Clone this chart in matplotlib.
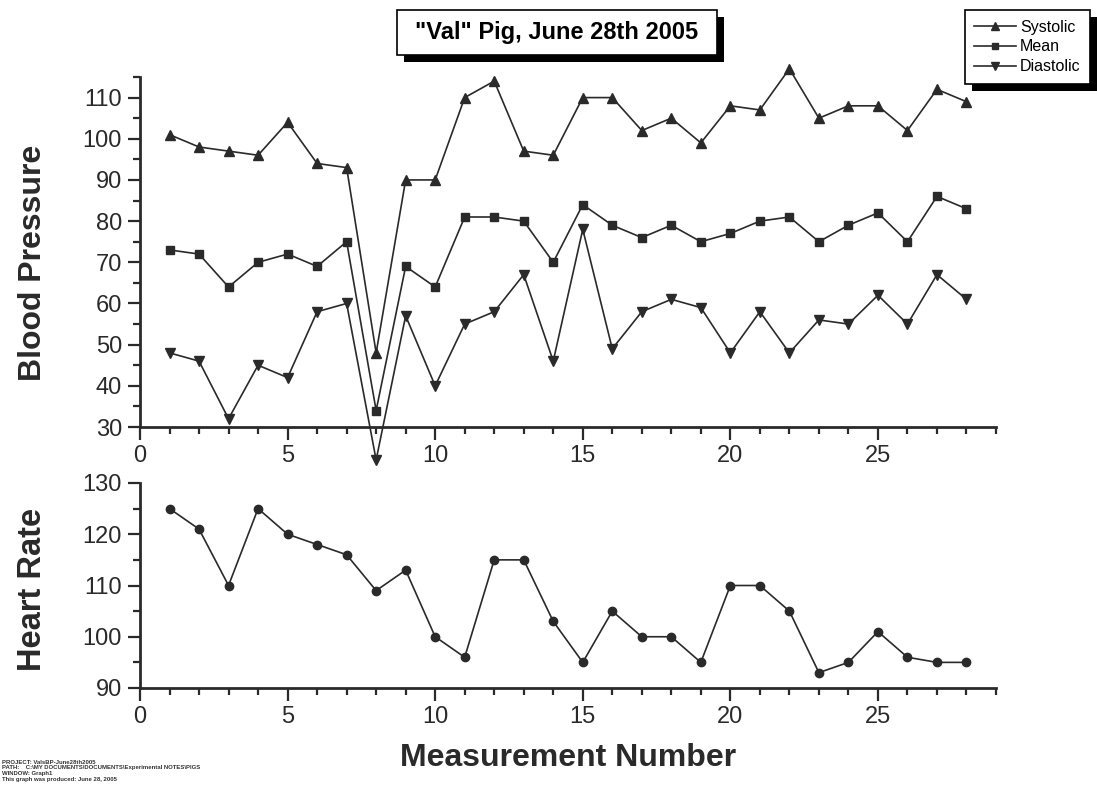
import numpy as np
import matplotlib.pyplot as plt
from matplotlib.patches import Rectangle
from matplotlib.ticker import MultipleLocator

plt.rcParams['font.family'] = ['Liberation Sans', 'DejaVu Sans']

#######################################
### data ###
#######################################
measurement = np.arange(1, 29)
systolic = [101, 98, 97, 96, 104, 94, 93, 48, 90, 90, 110, 114, 97, 96,
            110, 110, 102, 105, 99, 108, 107, 117, 105, 108, 108, 102, 112, 109]
mean_bp = [73, 72, 64, 70, 72, 69, 75, 34, 69, 64, 81, 81, 80, 70,
           84, 79, 76, 79, 75, 77, 80, 81, 75, 79, 82, 75, 86, 83]
diastolic = [48, 46, 32, 45, 42, 58, 60, 22, 57, 40, 55, 58, 67, 46,
             78, 49, 58, 61, 59, 48, 58, 48, 56, 55, 62, 55, 67, 61]
heart_rate = [125, 121, 110, 125, 120, 118, 116, 109, 113, 100, 96, 115, 115, 103,
              95, 105, 100, 100, 95, 110, 110, 105, 93, 95, 101, 96, 95, 95]

title_text = '"Val" Pig, June 28th 2005'
footer_lines = ["PROJECT: ValsBP-June28th2005",
                "PATH:    C:\\MY DOCUMENTS\\DOCUMENTS\\Experimental NOTES\\PIGS",
                "WINDOW: Graph1",
                "This graph was produced: June 28, 2005"]

ink = "#2a2a2a"
W, H = 1097., 797.

def fx(x):
    return x / W

def fy(y):
    return 1 - y / H

fig = plt.figure(figsize=(10.97, 7.97), dpi=100)

ax1 = fig.add_axes([fx(140), fy(427), 856 / W, 350 / H])
ax2 = fig.add_axes([fx(140), fy(688), 856 / W, 205 / H])

h1, = ax1.plot(measurement, systolic, ls="-", lw=1.2, c=ink, marker="^", ms=7.5,
               mfc=ink, mec=ink, label="Systolic", clip_on=False)
h2, = ax1.plot(measurement, mean_bp, ls="-", lw=1.2, c=ink, marker="s", ms=5.5,
               mfc=ink, mec=ink, label="Mean", clip_on=False)
h3, = ax1.plot(measurement, diastolic, ls="-", lw=1.2, c=ink, marker="v", ms=7.5,
               mfc=ink, mec=ink, label="Diastolic", clip_on=False)

ax2.plot(measurement, heart_rate, ls="-", lw=1.2, c=ink, marker="o", ms=6,
         mfc=ink, mec=ink, clip_on=False)

ax1.set_xlim(0, 29)
ax1.set_ylim(30, 115)
ax2.set_xlim(0, 29)
ax2.set_ylim(90, 130)

for ax in (ax1, ax2):
    ax.set_facecolor("none")
    ax.spines["top"].set_visible(False)
    ax.spines["right"].set_visible(False)
    for s in ("left", "bottom"):
        ax.spines[s].set_linewidth(2)
        ax.spines[s].set_color(ink)
    ax.xaxis.set_major_locator(MultipleLocator(5))
    ax.xaxis.set_minor_locator(MultipleLocator(1))
    ax.yaxis.set_major_locator(MultipleLocator(10))
    ax.yaxis.set_minor_locator(MultipleLocator(5))
    ax.tick_params(which="major", direction="out", length=9, width=1.6,
                   color=ink, labelsize=17, labelcolor=ink, pad=4)
    ax.tick_params(which="minor", direction="out", length=5, width=1.6, color=ink)
    ax.set_xticks([0, 5, 10, 15, 20, 25])

ax1.set_ylabel("Blood Pressure", fontsize=23, fontweight="bold", color=ink, va="center")
ax1.yaxis.set_label_coords(-0.125, 0.47)
ax2.set_ylabel("Heart Rate", fontsize=23.5, fontweight="bold", color=ink, va="center")
ax2.yaxis.set_label_coords(-0.125, 0.48)
ax2.set_xlabel("Measurement Number", fontsize=23, fontweight="bold", color=ink, va="center")
ax2.xaxis.set_label_coords(0.5, -0.34)

# title box with a solid drop shadow
fig.patches.append(Rectangle((fx(404), fy(62)), 320 / W, 45 / H, transform=fig.transFigure,
                             facecolor="black", edgecolor="none", zorder=1))
fig.patches.append(Rectangle((fx(397), fy(55)), 320 / W, 45 / H, transform=fig.transFigure,
                             facecolor="white", edgecolor="black", lw=1.2, zorder=2))
fig.text(fx(557), fy(33), title_text, fontsize=17, fontweight="bold", color="black",
         ha="center", va="center", zorder=3)

leg = fig.legend(handles=[h1, h2, h3], loc="upper right", bbox_to_anchor=(fx(1090), fy(10)),
                 bbox_transform=fig.transFigure, fontsize=11.5, frameon=True,
                 fancybox=False, framealpha=1, edgecolor="black", markerscale=0.85,
                 handlelength=2.6, handletextpad=0.25, labelspacing=0.3,
                 borderpad=0.6, borderaxespad=0)
leg.get_frame().set_linewidth(1.2)
leg.set_zorder(5)

fig.canvas.draw()
bb = leg.get_window_extent().transformed(fig.transFigure.inverted())
fig.patches.append(Rectangle((bb.x0 + 7 / W, bb.y0 - 7 / H), bb.width, bb.height,
                             transform=fig.transFigure, facecolor="black",
                             edgecolor="none", zorder=4))

for i, line in enumerate(footer_lines):
    fig.text(fx(2), fy(762 + 6 * i), line, fontsize=4.3, fontweight="bold",
             color="#333333", ha="left", va="center")

plt.savefig("out.png", dpi=100)
